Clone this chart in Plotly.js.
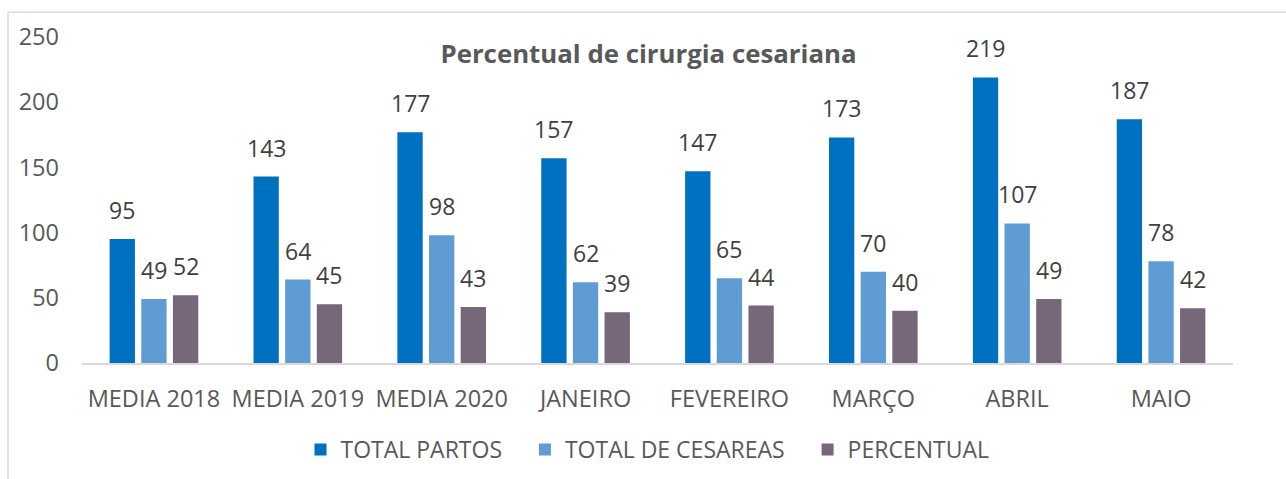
<!DOCTYPE html>
<html>
<head>
<meta charset="utf-8">
<script src="https://cdn.plot.ly/plotly-3.0.1.min.js"></script>
<style>
  html, body { margin: 0; padding: 0; background: #ffffff; }
  #chart { width: 1286px; height: 479px; }
</style>
</head>
<body>
<div id="chart"></div>
<script>
// ---- data ----
const categories = ['MEDIA 2018', 'MEDIA 2019', 'MEDIA 2020', 'JANEIRO', 'FEVEREIRO', 'MARÇO', 'ABRIL', 'MAIO'];
const totalPartos = [95, 143, 177, 157, 147, 173, 219, 187];
const totalCesareas = [49, 64, 98, 62, 65, 70, 107, 78];
const percentual = [52, 45, 43, 39, 44, 40, 49, 42];
const seriesNames = ['TOTAL PARTOS', 'TOTAL DE CESAREAS', 'PERCENTUAL'];
const chartTitle = 'Percentual de cirurgia cesariana';
const yTicks = [0, 50, 100, 150, 200, 250];

// ---- style ----
const colors = ['#0070C0', '#5F9CD3', '#76687A'];
const W = 1286, H = 479;
const M = { l: 82, r: 52.5, t: 36.7, b: 116 };
const BARGAP = 0.34, BARGROUPGAP = 0.2;
const FONT = '"Open Sans", "Liberation Sans", sans-serif';
const LEGEND_PAD = '\u00a0\u00a0\u00a0';

const seriesValues = [totalPartos, totalCesareas, percentual];

const traces = seriesValues.map((vals, k) => ({
  type: 'bar',
  name: seriesNames[k] + (k < seriesNames.length - 1 ? LEGEND_PAD : ''),
  x: categories,
  y: vals,
  marker: { color: colors[k] },
  hoverinfo: 'skip'
}));

// data labels above each bar
const slot = (1 - BARGAP) / 3;
const annotations = [];
seriesValues.forEach((vals, k) => {
  vals.forEach((v, i) => {
    annotations.push({
      xref: 'x', yref: 'y',
      x: i + (k - 1) * slot,
      y: v,
      text: String(v),
      showarrow: false,
      xanchor: 'center',
      yanchor: 'bottom',
      yshift: 11,
      font: { family: FONT, size: 23, color: '#404040' }
    });
  });
});

// outer chart-area border (top and left edges visible)
const plotW = W - M.l - M.r, plotH = H - M.t - M.b;
const px2x = p => (p - M.l) / plotW;
const py2y = p => (H - M.b - p) / plotH;
const borderColor = '#D9D9D9';
const shapes = [
  { type: 'line', xref: 'paper', yref: 'paper', x0: px2x(8), x1: px2x(W + 20), y0: py2y(12), y1: py2y(12),
    line: { color: borderColor, width: 1.5 } },
  { type: 'line', xref: 'paper', yref: 'paper', x0: px2x(8), x1: px2x(8), y0: py2y(12), y1: py2y(H + 20),
    line: { color: borderColor, width: 1.5 } }
];

const layout = {
  width: W, height: H,
  margin: M,
  paper_bgcolor: '#ffffff',
  plot_bgcolor: '#ffffff',
  barmode: 'group',
  bargap: BARGAP,
  bargroupgap: BARGROUPGAP,
  font: { family: FONT, color: '#595959' },
  title: {
    text: '<b>' + chartTitle + '</b>',
    xref: 'container', yref: 'container',
    x: 648.5 / W, y: 1 - 53.5 / H,
    xanchor: 'center', yanchor: 'middle',
    font: { family: FONT, size: 25.8, color: '#595959' }
  },
  xaxis: {
    type: 'category',
    showgrid: false,
    zeroline: false,
    showline: true,
    linecolor: '#D9D9D9',
    linewidth: 1.5,
    ticks: '',
    ticklabelstandoff: 14,
    tickfont: { family: FONT, size: 23.5, color: '#595959' },
    fixedrange: true
  },
  yaxis: {
    range: [0, 250],
    tickvals: yTicks,
    ticktext: yTicks.map(String),
    showgrid: false,
    zeroline: false,
    showline: false,
    ticks: '',
    ticklabelstandoff: 22,
    tickfont: { family: FONT, size: 23.5, color: '#595959' },
    fixedrange: true
  },
  showlegend: true,
  legend: {
    orientation: 'h',
    xref: 'container', yref: 'container',
    x: 647.5 / W, y: 1 - 449.5 / H,
    xanchor: 'center', yanchor: 'middle',
    font: { family: FONT, size: 23, color: '#595959' },
    itemclick: false, itemdoubleclick: false
  },
  annotations: annotations,
  shapes: shapes
};

Plotly.newPlot('chart', traces, layout, { staticPlot: true, displayModeBar: false });
</script>
</body>
</html>
